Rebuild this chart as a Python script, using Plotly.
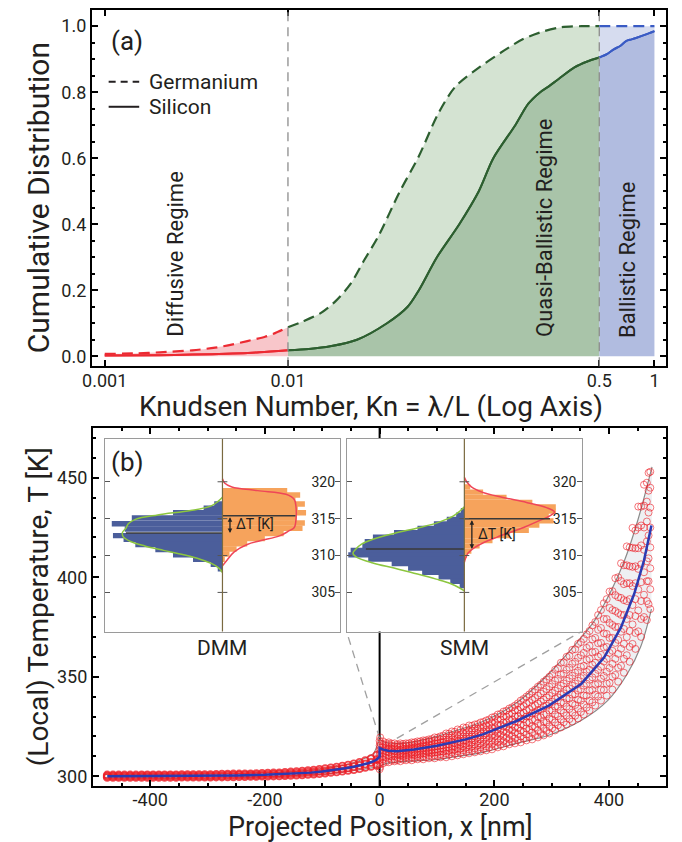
import math
import plotly.graph_objects as go

# ---------------- DATA: panel (a) cumulative distributions ----------------
GE_RED_KN = [0.001, 0.0015, 0.002, 0.003, 0.004, 0.005, 0.006, 0.0075, 0.0085, 0.01]
GE_RED_CD = [0.007, 0.009, 0.012, 0.018, 0.026, 0.036, 0.046, 0.059, 0.07, 0.088]
GE_GREEN_KN = [0.01, 0.012, 0.015, 0.0182, 0.022, 0.026, 0.0311, 0.0406, 0.0517, 0.0659,
               0.0817, 0.1125, 0.15, 0.192, 0.25, 0.311, 0.4, 0.5]
GE_GREEN_CD = [0.088, 0.105, 0.13, 0.167, 0.22, 0.29, 0.363, 0.497, 0.605, 0.734,
               0.816, 0.878, 0.925, 0.961, 0.985, 0.997, 1.0, 1.0]
GE_BLUE_KN = [0.5, 1.0]
GE_BLUE_CD = [1.0, 1.0]

SI_RED_KN = [0.001, 0.002, 0.003, 0.005, 0.007, 0.01]
SI_RED_CD = [0.002, 0.003, 0.005, 0.008, 0.012, 0.018]
SI_GREEN_KN = [0.01, 0.013, 0.017, 0.0238, 0.0347, 0.045, 0.0518, 0.065, 0.0861, 0.11,
               0.132, 0.174, 0.205, 0.238, 0.264, 0.3, 0.366, 0.43, 0.5]
SI_GREEN_CD = [0.018, 0.022, 0.03, 0.05, 0.1, 0.15, 0.2, 0.3, 0.4, 0.5,
               0.6, 0.7, 0.765, 0.8, 0.817, 0.84, 0.875, 0.893, 0.905]
SI_BLUE_KN = [0.5, 0.55, 0.6, 0.65, 0.7, 0.75, 0.8, 0.9, 1.0]
SI_BLUE_CD = [0.905, 0.915, 0.93, 0.94, 0.955, 0.96, 0.965, 0.975, 0.985]

KN_TICKS = [0.001, 0.01, 0.5, 1]
KN_TICK_TEXT = ["0.001", "0.01", "0.5", "1"]
REGIME_LINES = [0.01, 0.5]
REGIME_LABELS = ["Diffusive Regime", "Quasi-Ballistic Regime", "Ballistic Regime"]
REGIME_LABEL_KN = [0.00244, 0.251, 0.713]
REGIME_LABEL_CD = [0.31, 0.39, 0.29]

# ---------------- DATA: panel (b) temperature profile ----------------
BLUE_X = [-475, -400, -300, -250, -200, -150, -120, -100, -80, -60, -45, -30, -20, -10, -5, 0,
          0, 5, 15, 30, 60, 100, 150, 180, 237, 295, 352, 392, 421, 444, 461, 474]
BLUE_T = [300.0, 300.05, 300.2, 300.4, 300.7, 301.3, 301.8, 302.4, 303.1, 304.0, 304.8, 305.7,
          306.5, 307.6, 308.4, 309.8,
          314.2, 313.5, 312.8, 312.5, 313.4, 315.3, 318.5, 321.0, 327.5, 335.5, 346.5, 359.9,
          374.9, 391.7, 408.4, 426.0]

ENV_L_X = [-480, -300, -200, -150, -100, -70, -45, -25, -10, -2, 0]
ENV_L_UP = [300.9, 301.0, 301.6, 302.3, 303.6, 305.0, 306.8, 309.0, 311.5, 316.5, 318.5]
ENV_L_LO = [299.2, 299.4, 299.8, 300.3, 301.0, 301.8, 302.6, 303.6, 304.4, 304.7, 304.8]
ENV_R_UP_X = [0, 8, 30, 60, 100, 122, 180, 237, 295, 352, 375, 404, 427, 450, 475]
ENV_R_UP = [318.5, 317.2, 316.5, 317.3, 320.0, 322.0, 327.5, 336.5, 351.5, 369.9, 378.3,
            393.3, 408.4, 428.4, 455.5]
ENV_R_LO_X = [0, 10, 30, 60, 100, 122, 180, 237, 295, 352, 398, 432, 455, 474]
ENV_R_LO = [304.8, 306.3, 307.1, 307.7, 308.4, 309.3, 312.0, 316.4, 320.6, 328.1, 338.1,
            351.5, 364.9, 384.0]

# scattered local temperatures
LEFT_COL_X = [-475, -465, -455, -445, -435, -425, -415, -405, -395, -385, -375, -365, -355,
              -345, -335, -325, -315, -305, -295, -285, -275, -265, -255, -245, -235, -225,
              -215, -205, -195, -185, -175, -165, -155, -145, -135, -125, -115, -105, -95,
              -85, -75, -65, -55, -45, -35, -25, -15, -5]
LEFT_COL_T = [
    [299.4, 300.0, 300.6], [299.4, 300.0, 300.6], [299.4, 300.0, 300.6], [299.4, 300.0, 300.6],
    [299.4, 300.0, 300.6], [299.4, 300.0, 300.6], [299.4, 300.1, 300.7], [299.4, 300.1, 300.7],
    [299.4, 300.1, 300.7], [299.4, 300.1, 300.7], [299.4, 300.1, 300.7], [299.4, 300.1, 300.7],
    [299.4, 300.1, 300.7], [299.5, 300.2, 300.8], [299.5, 300.2, 300.8], [299.5, 300.2, 300.8],
    [299.5, 300.2, 300.8], [299.5, 300.2, 300.8], [299.5, 300.2, 300.8], [299.6, 300.3, 300.9],
    [299.6, 300.3, 301.0], [299.7, 300.4, 301.0], [299.7, 300.4, 301.1], [299.8, 300.5, 301.1],
    [299.8, 300.5, 301.2], [299.9, 300.6, 301.2], [299.9, 300.6, 301.3], [300.0, 300.7, 301.4],
    [300.0, 300.8, 301.5], [300.1, 300.9, 301.6], [300.2, 301.0, 301.7], [300.3, 301.1, 301.9],
    [300.4, 301.3, 302.1], [300.5, 301.4, 302.3], [300.7, 301.6, 302.5], [300.9, 301.9, 302.8],
    [301.1, 302.1, 303.1], [301.3, 302.4, 303.4], [301.6, 302.7, 303.8], [301.9, 303.0, 304.2],
    [302.2, 303.4, 304.6], [302.5, 303.8, 305.1], [302.9, 304.2, 305.6], [303.3, 304.8, 306.2],
    [303.8, 305.4, 306.9], [304.4, 306.1, 307.8], [304.9, 306.9, 308.8], [305.5, 308.3, 310.6]]
INTERFACE_X = [0, 1, 0, 1, 0, 1, 0, 1, 0, 1, 0, 1, 0, 1]
INTERFACE_T = [303.5, 304.6, 305.8, 307.0, 308.2, 309.4, 310.6, 311.8, 313.0, 314.2, 315.4,
               316.6, 317.8, 319.5]
RIGHT_COL_X = [6, 16, 26, 36, 46, 56, 66, 76, 86, 96, 106, 116, 126, 136, 146, 156, 166, 176,
               186, 196, 206, 216, 226, 236, 246, 256, 266, 276, 286, 296, 306, 316, 326, 336,
               346, 356, 366, 376, 386, 396, 406, 416, 426, 436, 446, 456, 466, 472]
RIGHT_COL_T = [
    [306.5, 308.5, 310.0, 311.5, 313.0, 314.5, 316.0, 317.5],
    [307.0, 309.0, 310.5, 312.0, 313.5, 314.5, 316.0, 317.0],
    [307.5, 308.5, 310.0, 311.5, 312.5, 314.0, 315.0, 316.5],
    [307.5, 309.0, 310.5, 311.5, 313.0, 314.5, 315.5, 316.5],
    [308.0, 309.5, 310.5, 312.0, 313.0, 314.0, 315.5, 316.5],
    [308.0, 309.5, 311.0, 312.0, 313.5, 314.5, 316.0, 317.0],
    [308.5, 310.0, 311.0, 312.5, 314.0, 315.0, 316.5, 317.5],
    [308.5, 310.0, 311.5, 313.0, 314.0, 315.5, 317.0, 318.0],
    [309.0, 310.5, 312.0, 313.0, 314.5, 316.0, 317.5, 318.5],
    [309.0, 310.5, 312.0, 313.5, 315.0, 316.5, 318.0, 319.5],
    [309.5, 311.0, 312.5, 314.0, 315.5, 317.0, 318.5, 320.0],
    [309.5, 311.5, 313.0, 314.5, 316.0, 317.5, 319.5, 321.5],
    [310.0, 312.0, 313.5, 315.0, 317.0, 318.5, 320.5, 322.5],
    [310.5, 312.5, 314.0, 316.0, 317.5, 319.0, 321.0, 323.5],
    [311.0, 313.0, 315.0, 316.5, 318.0, 320.0, 322.0, 324.5],
    [311.5, 313.5, 315.5, 317.0, 319.0, 321.0, 323.0, 325.5],
    [312.0, 314.0, 316.0, 318.0, 320.0, 322.0, 324.0, 326.0],
    [312.5, 314.5, 316.5, 318.5, 320.5, 322.5, 324.5, 327.0],
    [313.0, 315.0, 317.5, 319.5, 321.5, 323.5, 325.5, 328.0],
    [313.5, 316.0, 318.0, 320.5, 322.5, 324.5, 327.0, 329.5],
    [314.5, 317.0, 319.0, 321.5, 323.5, 326.0, 328.5, 331.0],
    [315.0, 317.5, 320.0, 322.5, 325.0, 327.0, 330.0, 332.5],
    [316.0, 318.5, 321.0, 323.5, 326.0, 328.5, 331.0, 334.0],
    [316.5, 319.0, 322.0, 324.5, 327.5, 330.0, 333.0, 335.5],
    [317.0, 320.0, 323.0, 326.0, 329.0, 331.5, 334.5, 338.0],
    [318.0, 321.0, 324.0, 327.0, 330.0, 333.0, 336.5, 340.0],
    [318.5, 322.0, 325.0, 328.5, 331.5, 335.0, 338.5, 342.5],
    [319.5, 323.0, 326.5, 330.0, 333.0, 336.5, 340.5, 345.0],
    [320.5, 324.0, 327.5, 331.0, 335.0, 338.5, 342.5, 347.5],
    [321.5, 325.0, 329.0, 333.0, 336.5, 340.5, 345.0, 350.0],
    [323.0, 327.0, 331.0, 335.0, 339.0, 343.0, 348.0, 353.5],
    [324.5, 328.5, 333.0, 337.0, 341.0, 345.5, 351.0, 357.0],
    [326.0, 330.5, 335.0, 339.0, 343.5, 348.0, 353.5, 360.0],
    [327.5, 332.0, 336.5, 341.0, 345.5, 350.5, 356.5, 363.5],
    [329.0, 334.0, 338.5, 343.0, 348.0, 353.0, 359.5, 366.5],
    [331.0, 336.0, 340.5, 345.5, 350.5, 355.5, 362.0, 369.0],
    [333.0, 338.0, 343.0, 348.5, 353.5, 359.0, 365.5, 373.0],
    [335.5, 341.0, 346.0, 351.5, 357.0, 362.5, 369.5, 377.5],
    [338.0, 343.5, 349.0, 355.0, 361.0, 367.0, 374.5, 383.5],
    [340.5, 346.5, 352.5, 359.0, 365.0, 371.5, 379.0, 389.0],
    [343.5, 350.0, 356.5, 363.0, 369.5, 376.0, 383.5, 393.0],
    [347.5, 354.5, 361.5, 368.5, 375.0, 382.0, 390.0, 400.0],
    [352.0, 359.0, 366.5, 374.0, 381.0, 388.5, 396.5, 406.0],
    [357.5, 365.0, 373.0, 381.0, 389.0, 397.0, 405.5, 415.0],
    [364.0, 372.0, 380.5, 389.0, 397.0, 405.5, 414.5, 423.5],
    [370.0, 379.0, 388.0, 397.5, 406.5, 416.0, 426.0, 435.5],
    [378.5, 388.0, 398.0, 408.0, 418.0, 428.0, 438.0, 447.5],
    [384.0, 394.0, 404.5, 415.0, 425.0, 435.0, 445.0, 453.0]]
RIGHT_COL2_X = [11, 21, 31, 41, 51, 61, 71, 81, 91, 101, 111, 121, 131, 141, 151, 161, 171,
                181, 191, 201, 211, 221, 231, 241, 251, 261, 271, 281, 291, 301, 311, 321, 331,
                341, 351, 361, 371, 381, 391, 401, 411, 421, 431, 441, 451, 461, 469]
RIGHT_COL2_T = [
    [307.2, 309.3, 311.0, 312.5, 313.8, 315.2, 316.6],
    [307.8, 309.8, 311.2, 312.7, 313.9, 315.3, 316.4],
    [308.0, 309.4, 311.0, 312.3, 313.4, 314.7, 315.9],
    [308.3, 309.9, 311.2, 312.6, 313.8, 315.0, 316.2],
    [308.6, 310.2, 311.6, 312.8, 314.0, 315.2, 316.5],
    [308.9, 310.5, 311.9, 313.2, 314.5, 315.8, 317.0],
    [309.2, 310.8, 312.2, 313.6, 314.9, 316.2, 317.5],
    [309.5, 311.2, 312.6, 314.0, 315.3, 316.7, 318.0],
    [309.8, 311.5, 312.9, 314.3, 315.8, 317.2, 318.7],
    [310.1, 311.9, 313.4, 314.9, 316.3, 317.8, 319.4],
    [310.4, 312.3, 313.9, 315.4, 316.9, 318.5, 320.4],
    [310.8, 312.8, 314.4, 316.0, 317.6, 319.4, 321.4],
    [311.3, 313.3, 315.0, 316.6, 318.3, 320.1, 322.3],
    [311.8, 313.9, 315.7, 317.3, 319.1, 321.0, 323.2],
    [312.3, 314.5, 316.3, 318.1, 320.0, 322.0, 324.3],
    [312.8, 315.0, 317.0, 318.9, 320.9, 323.0, 325.3],
    [313.3, 315.6, 317.6, 319.6, 321.7, 323.8, 326.2],
    [313.8, 316.1, 318.3, 320.5, 322.6, 324.8, 327.3],
    [314.4, 316.8, 319.0, 321.4, 323.6, 325.9, 328.5],
    [315.1, 317.6, 320.0, 322.4, 324.7, 327.2, 329.9],
    [315.8, 318.4, 320.9, 323.4, 325.9, 328.5, 331.3],
    [316.6, 319.3, 321.9, 324.6, 327.2, 330.0, 332.9],
    [317.3, 320.2, 323.0, 325.8, 328.6, 331.6, 334.6],
    [318.1, 321.2, 324.2, 327.2, 330.2, 333.3, 336.6],
    [318.9, 322.2, 325.5, 328.7, 331.9, 335.2, 338.8],
    [319.8, 323.3, 326.8, 330.3, 333.7, 337.2, 341.1],
    [320.7, 324.5, 328.2, 331.9, 335.6, 339.3, 343.5],
    [321.7, 325.7, 329.6, 333.6, 337.5, 341.5, 346.0],
    [322.8, 327.0, 331.2, 335.4, 339.6, 343.8, 348.6],
    [324.1, 328.5, 333.0, 337.4, 341.8, 346.3, 351.4],
    [325.6, 330.2, 334.9, 339.6, 344.2, 348.9, 354.3],
    [327.1, 331.9, 336.8, 341.7, 346.6, 351.6, 357.3],
    [328.7, 333.8, 339.0, 344.1, 349.2, 354.5, 360.5],
    [330.4, 335.8, 341.2, 346.6, 352.0, 357.5, 363.8],
    [332.3, 338.0, 343.7, 349.3, 355.0, 360.8, 367.4],
    [334.5, 340.5, 346.5, 352.4, 358.4, 364.5, 371.3],
    [337.1, 343.4, 349.7, 356.0, 362.3, 368.8, 375.8],
    [340.0, 346.7, 353.4, 360.1, 366.8, 373.6, 381.0],
    [343.3, 350.4, 357.6, 364.7, 371.8, 379.0, 386.9],
    [346.9, 354.4, 362.0, 369.5, 377.0, 384.6, 392.8],
    [350.9, 359.0, 367.0, 375.0, 383.0, 391.0, 399.5],
    [355.5, 364.1, 372.6, 381.1, 389.6, 398.1, 407.0],
    [360.8, 369.9, 379.0, 388.0, 397.0, 406.0, 415.5],
    [366.5, 376.3, 386.0, 395.6, 405.2, 414.8, 424.8],
    [372.8, 383.3, 393.8, 404.2, 414.6, 425.0, 435.5],
    [380.0, 391.2, 402.5, 413.8, 425.0, 436.0, 446.5],
    [386.5, 398.0, 409.5, 421.0, 432.5, 443.5, 452.5]]

# connectors from the zoomed interface region to the inset corners
ZOOM_LINE_X = [[0, -57.7], [30, 352]]
ZOOM_LINE_T = [[319.0, 372.8], [319.0, 372.8]]

X_TICKS_B = [-400, -200, 0, 200, 400]
X_TICK_TEXT_B = ["-400", "-200", "0", "200", "400"]

# ---------------- DATA: insets (DMM, SMM) ----------------
INSET_T_TICKS = [305, 310, 315, 320]

DMM_BLUE_T = [317.0, 316.4, 315.8, 315.1, 314.3, 313.6, 312.7, 312.2, 311.5, 310.8, 310.1,
              309.5, 308.8, 308.2]
DMM_BLUE_W = [0.07, 0.16, 0.42, 0.77, 0.94, 0.83, 0.93, 0.84, 0.74, 0.57, 0.42, 0.25, 0.10, 0.04]
DMM_GREEN_T = [317.9, 317.3, 316.7, 316.1, 315.5, 314.9, 314.3, 313.7, 313.1, 312.5, 311.9,
               311.3, 310.7, 310.1, 309.5, 308.9, 308.3, 307.7]
DMM_GREEN_W = [0.0, 0.04, 0.1, 0.27, 0.55, 0.74, 0.8, 0.82, 0.85, 0.84, 0.78, 0.66, 0.5, 0.33,
               0.19, 0.09, 0.03, 0.0]
DMM_ORANGE_T = [318.8, 318.2, 317.6, 317.0, 316.4, 315.8, 315.1, 314.4, 313.7, 313.0, 312.3,
                311.6, 310.9, 310.2, 309.5]
DMM_ORANGE_W = [0.55, 0.66, 0.62, 0.70, 0.64, 0.71, 0.63, 0.70, 0.68, 0.52, 0.36, 0.21, 0.12,
                0.06, 0.02]
DMM_RED_T = [320.4, 319.8, 319.3, 318.8, 318.3, 317.6, 316.5, 315.0, 313.8, 313.3, 312.7, 312.0,
             311.5, 310.5, 309.4, 308.6]
DMM_RED_W = [0.0, 0.02, 0.08, 0.3, 0.54, 0.61, 0.625, 0.625, 0.61, 0.56, 0.49, 0.32, 0.21, 0.1,
             0.04, 0.0]
DMM_MEAN_LEFT, DMM_MEAN_RIGHT = 313.05, 315.4
DMM_MEAN_REACH = [0.82, 0.62]

SMM_BLUE_T = [316.1, 315.5, 314.9, 314.3, 313.7, 313.1, 312.5, 311.9, 311.3, 310.7, 310.1,
              309.5, 308.9, 308.3, 307.7, 307.1, 306.5, 305.9]
SMM_BLUE_W = [0.03, 0.07, 0.15, 0.26, 0.4, 0.6, 0.78, 0.85, 0.87, 0.97, 0.99, 0.82, 0.62, 0.48,
              0.36, 0.22, 0.12, 0.04]
SMM_GREEN_T = [316.6, 316.0, 315.3, 314.5, 313.8, 313.0, 312.2, 311.5, 310.8, 310.3, 309.8,
               309.0, 308.3, 307.5, 306.8, 306.2, 305.6, 305.2]
SMM_GREEN_W = [0.0, 0.04, 0.1, 0.22, 0.38, 0.6, 0.78, 0.88, 0.93, 0.95, 0.92, 0.78, 0.6, 0.4,
               0.24, 0.12, 0.04, 0.0]
SMM_ORANGE_T = [319.3, 318.6, 317.9, 317.2, 316.6, 316.0, 315.4, 314.7, 314.1, 313.4, 312.7,
                312.0, 311.3, 310.6, 310.0]
SMM_ORANGE_W = [0.05, 0.16, 0.36, 0.58, 0.78, 0.78, 0.72, 0.76, 0.64, 0.55, 0.39, 0.24, 0.13,
                0.06, 0.02]
SMM_RED_T = [320.6, 320.0, 319.3, 318.6, 317.9, 317.2, 316.5, 315.9, 315.3, 314.6, 313.9, 313.2,
             312.5, 311.8, 311.0, 310.3, 309.6, 309.1]
SMM_RED_W = [0.0, 0.02, 0.06, 0.15, 0.32, 0.53, 0.7, 0.77, 0.72, 0.62, 0.52, 0.4, 0.28, 0.17,
             0.08, 0.03, 0.01, 0.0]
SMM_MEAN_LEFT, SMM_MEAN_RIGHT = 310.9, 315.0
SMM_MEAN_REACH = [0.84, 0.73]

# ---------------- styling ----------------
W, H = 682, 842
OFF = 8  # page body margin of the browser
FONT = "Roboto, 'Liberation Sans', sans-serif"
INK = "#231f20"
RED, DGREEN, BLUE = "#ec2a32", "#2d5f30", "#3a5bc4"
PINK_FILL = "#f8c6ca"
GREEN_LIGHT, GREEN_DARK = "#d4e3d2", "#a9c4a9"
BLUE_LIGHT, BLUE_DARK = "#d6dcef", "#b1bce0"
DASH = "11px,6px"


def px(x):
    return (x - OFF) / W


def py(y):
    return min(1.0, 1 - (y - OFF) / H)


fig = go.Figure()

# ---- panel (a)
segments = [
    (SI_RED_KN, SI_RED_CD, GE_RED_KN, GE_RED_CD, RED, PINK_FILL, PINK_FILL),
    (SI_GREEN_KN, SI_GREEN_CD, GE_GREEN_KN, GE_GREEN_CD, DGREEN, GREEN_DARK, GREEN_LIGHT),
    (SI_BLUE_KN, SI_BLUE_CD, GE_BLUE_KN, GE_BLUE_CD, BLUE, BLUE_DARK, BLUE_LIGHT),
]
for si_x, si_y, ge_x, ge_y, col, dark, light in segments:
    fig.add_trace(go.Scatter(x=si_x, y=si_y, mode="lines",
                             line=dict(color=col, width=2, shape="spline", smoothing=0.8),
                             fill="tozeroy", fillcolor=dark, showlegend=False,
                             xaxis="x", yaxis="y", hoverinfo="skip"))
    fig.add_trace(go.Scatter(x=ge_x, y=ge_y, mode="lines",
                             line=dict(color=col, width=2.2, dash=DASH, shape="spline",
                                       smoothing=0.8),
                             fill="tonexty", fillcolor=light, showlegend=False,
                             xaxis="x", yaxis="y", hoverinfo="skip"))
for si_x, si_y, ge_x, ge_y, col, dark, light in segments:
    fig.add_trace(go.Scatter(x=si_x, y=si_y, mode="lines",
                             line=dict(color=col, width=2, shape="spline", smoothing=0.8),
                             showlegend=False, xaxis="x", yaxis="y", hoverinfo="skip"))

# ---- panel (b)
ENV_GREY = "#8a8a8a"
ENV_FILL = "#eef0f3"
fig.add_trace(go.Scatter(x=ENV_L_X, y=ENV_L_LO, mode="lines", line=dict(color=ENV_GREY, width=1),
                         showlegend=False, xaxis="x2", yaxis="y2", hoverinfo="skip"))
fig.add_trace(go.Scatter(x=ENV_L_X, y=ENV_L_UP, mode="lines", line=dict(color=ENV_GREY, width=1),
                         fill="tonexty", fillcolor=ENV_FILL,
                         showlegend=False, xaxis="x2", yaxis="y2", hoverinfo="skip"))
fig.add_trace(go.Scatter(x=ENV_R_LO_X, y=ENV_R_LO, mode="lines",
                         line=dict(color=ENV_GREY, width=1.2, shape="spline"),
                         showlegend=False, xaxis="x2", yaxis="y2", hoverinfo="skip"))
fig.add_trace(go.Scatter(x=ENV_R_UP_X, y=ENV_R_UP, mode="lines",
                         line=dict(color=ENV_GREY, width=1.2, shape="spline"),
                         fill="tonexty", fillcolor=ENV_FILL,
                         showlegend=False, xaxis="x2", yaxis="y2", hoverinfo="skip"))

lx, ly = [], []
for xc, ts in zip(LEFT_COL_X, LEFT_COL_T):
    for t in ts:
        lx.append(xc)
        ly.append(t)
fig.add_trace(go.Scatter(x=lx, y=ly, mode="markers",
                         marker=dict(symbol="circle-open", size=7,
                                     color="rgba(236,28,36,0.8)", line=dict(width=1.8)),
                         showlegend=False, xaxis="x2", yaxis="y2", hoverinfo="skip"))
sx, sy = list(INTERFACE_X), list(INTERFACE_T)
for cols_x, cols_t in ((RIGHT_COL_X, RIGHT_COL_T), (RIGHT_COL2_X, RIGHT_COL2_T)):
    for xc, ts in zip(cols_x, cols_t):
        for t in ts:
            sx.append(xc)
            sy.append(t)
fig.add_trace(go.Scatter(x=sx, y=sy, mode="markers",
                         marker=dict(symbol="circle-open", size=7,
                                     color="rgba(236,28,36,0.6)", line=dict(width=1)),
                         showlegend=False, xaxis="x2", yaxis="y2", hoverinfo="skip"))
fig.add_trace(go.Scatter(x=BLUE_X, y=BLUE_T, mode="lines", line=dict(color="#2b3bb3", width=2.5),
                         showlegend=False, xaxis="x2", yaxis="y2", hoverinfo="skip"))


# ---- insets
def add_inset(xa, ya, bt, bw, gt, gw, ot, ow, rt, rw, m_left, m_right, reach, bar_w):
    neg_bw = [-w for w in bw]
    neg_gw = [-w for w in gw]
    fig.add_trace(go.Bar(x=neg_bw, y=bt, orientation="h", width=bar_w, base=0,
                         marker=dict(color="#4b5e9b", line=dict(width=0)),
                         showlegend=False, xaxis=xa, yaxis=ya, hoverinfo="skip"))
    fig.add_trace(go.Bar(x=ow, y=ot, orientation="h", width=bar_w, base=0,
                         marker=dict(color="#f6a35c", line=dict(width=0)),
                         showlegend=False, xaxis=xa, yaxis=ya, hoverinfo="skip"))
    fig.add_trace(go.Scatter(x=neg_gw, y=gt, mode="lines",
                             line=dict(color="#8cc63f", width=1.5, shape="spline"),
                             showlegend=False, xaxis=xa, yaxis=ya, hoverinfo="skip"))
    fig.add_trace(go.Scatter(x=rw, y=rt, mode="lines",
                             line=dict(color="#ef4658", width=1.5, shape="spline"),
                             showlegend=False, xaxis=xa, yaxis=ya, hoverinfo="skip"))
    fig.add_trace(go.Scatter(x=[-reach[0], 0], y=[m_left, m_left], mode="lines",
                             line=dict(color="#3a3a3a", width=1.5),
                             showlegend=False, xaxis=xa, yaxis=ya, hoverinfo="skip"))
    fig.add_trace(go.Scatter(x=[0, reach[1]], y=[m_right, m_right], mode="lines",
                             line=dict(color="#3a3a3a", width=1.5),
                             showlegend=False, xaxis=xa, yaxis=ya, hoverinfo="skip"))
    fig.add_trace(go.Scatter(x=[0] * len(INSET_T_TICKS), y=INSET_T_TICKS, mode="markers",
                             marker=dict(symbol="line-ew", size=7,
                                         line=dict(color="#555", width=1)),
                             showlegend=False, xaxis=xa, yaxis=ya, hoverinfo="skip"))


add_inset("x3", "y3", DMM_BLUE_T, DMM_BLUE_W, DMM_GREEN_T, DMM_GREEN_W, DMM_ORANGE_T,
          DMM_ORANGE_W, DMM_RED_T, DMM_RED_W, DMM_MEAN_LEFT, DMM_MEAN_RIGHT, DMM_MEAN_REACH,
          0.74)
add_inset("x4", "y4", SMM_BLUE_T, SMM_BLUE_W, SMM_GREEN_T, SMM_GREEN_W, SMM_ORANGE_T,
          SMM_ORANGE_W, SMM_RED_T, SMM_RED_W, SMM_MEAN_LEFT, SMM_MEAN_RIGHT, SMM_MEAN_REACH,
          0.7)

# ---------------- layout ----------------
tickfont = dict(family=FONT, size=18, color=INK)
frame = dict(showline=True, linecolor="black", linewidth=2, mirror="allticks",
             ticks="inside", ticklen=6, tickcolor="black", tickwidth=1.5,
             showgrid=False, zeroline=False, tickfont=tickfont)
inset_x = dict(range=[-1, 1], showticklabels=False, ticks="", showline=True,
               linecolor="#9a9a9a", linewidth=1, mirror=True, showgrid=False,
               zeroline=False, fixedrange=True)
inset_y = dict(range=[299.7, 325.8], side="right", tickvals=INSET_T_TICKS,
               ticks="inside", ticklen=5, tickcolor="#555", ticklabelposition="inside",
               showline=True, linecolor="#9a9a9a", linewidth=1, mirror="ticks",
               showgrid=False, zeroline=False,
               tickfont=dict(family=FONT, size=14, color=INK))

shapes = []
for kn in REGIME_LINES:
    shapes.append(dict(type="line", xref="x", yref="y domain", x0=kn, x1=kn, y0=0, y1=1,
                       line=dict(color="#8c8c8c", width=1.3, dash="9px,6px"), layer="above"))
shapes.append(dict(type="line", xref="x2", yref="y2 domain", x0=0, x1=0, y0=0, y1=1,
                   line=dict(color="black", width=2), layer="below"))
for zx, zt in zip(ZOOM_LINE_X, ZOOM_LINE_T):
    shapes.append(dict(type="line", xref="x2", yref="y2", x0=zx[0], x1=zx[1], y0=zt[0], y1=zt[1],
                       line=dict(color="#a0a0a0", width=1.3, dash="8px,6px"), layer="below"))
for xa in ("x3", "x4"):
    shapes.append(dict(type="line", xref=xa, yref=xa.replace("x", "y") + " domain",
                       x0=0, x1=0, y0=0, y1=1, line=dict(color="#7a6a40", width=1.2),
                       layer="above"))
# legend samples (panel a)
shapes.append(dict(type="line", xref="paper", yref="paper", x0=px(100), x1=px(131),
                   y0=py(80), y1=py(80), line=dict(color=INK, width=2, dash="7px,5px")))
shapes.append(dict(type="line", xref="paper", yref="paper", x0=px(100), x1=px(131),
                   y0=py(105), y1=py(105), line=dict(color=INK, width=2)))

ann = []


def text(x, y, s, size, xref="paper", yref="paper", angle=0, xanchor="center", yanchor="middle"):
    ann.append(dict(x=x, y=y, xref=xref, yref=yref, text=s, showarrow=False, textangle=angle,
                    xanchor=xanchor, yanchor=yanchor,
                    font=dict(family=FONT, size=size, color=INK)))


text(px(366), py(405), "Knudsen Number, Kn = λ/L (Log Axis)", 28)
text(px(29), py(196), "Cumulative Distribution", 30, angle=-90)
text(px(376), py(827), "Projected Position, x [nm]", 27)
text(px(29), py(606), "(Local) Temperature, T [K]", 28, angle=-90)
text(px(100), py(39), "(a)", 26, xanchor="left")
text(px(100), py(461), "(b)", 26, xanchor="left")
text(px(139), py(80), "Germanium", 21, xanchor="left")
text(px(139), py(105), "Silicon", 21, xanchor="left")
for lab, kn, cd in zip(REGIME_LABELS, REGIME_LABEL_KN, REGIME_LABEL_CD):
    text(math.log10(kn), cd, lab, 22, xref="x", yref="y", angle=-90)
text(0, -0.088, "DMM", 21, xref="x3", yref="y3 domain")
text(0, -0.088, "SMM", 21, xref="x4", yref="y4 domain")
text(0.1, (DMM_MEAN_LEFT + DMM_MEAN_RIGHT) / 2, "ΔT [K]", 14, xref="x3", yref="y3",
     xanchor="left")
text(0.1, (SMM_MEAN_LEFT + SMM_MEAN_RIGHT) / 2, "ΔT [K]", 14, xref="x4", yref="y4",
     xanchor="left")
for xa, lo, hi in (("x3", DMM_MEAN_LEFT, DMM_MEAN_RIGHT), ("x4", SMM_MEAN_LEFT, SMM_MEAN_RIGHT)):
    ya = xa.replace("x", "y")
    ann.append(dict(x=0.064, y=lo, ax=0.064, ay=hi, xref=xa, yref=ya, axref=xa, ayref=ya,
                    text="", showarrow=True, arrowhead=2, startarrowhead=2,
                    arrowside="end+start", arrowsize=0.7, arrowwidth=1.3,
                    arrowcolor="#222", standoff=0, startstandoff=0))

fig.update_layout(
    width=W, height=H, margin=dict(l=0, r=0, t=0, b=0),
    paper_bgcolor="white", plot_bgcolor="white",
    showlegend=False, barmode="overlay",
    font=dict(family=FONT, color=INK),
    xaxis=dict(frame, type="log", range=[-3.07, 0.065], domain=[px(83), px(666)], anchor="y",
               tickvals=KN_TICKS, ticktext=KN_TICK_TEXT, ticklabelstandoff=-3),
    yaxis=dict(frame, range=[-0.03, 1.049], domain=[py(365), py(8)], anchor="x",
               tickvals=[0, 0.2, 0.4, 0.6, 0.8, 1.0], tickformat=".1f",
               minor=dict(dtick=0.05, tick0=0, ticks="inside", ticklen=3, tickcolor="black")),
    xaxis2=dict(frame, range=[-500, 500], domain=[px(84), px(666)], anchor="y2",
                tickvals=X_TICKS_B, ticktext=X_TICK_TEXT_B, ticklabelstandoff=-4,
                minor=dict(dtick=50, tick0=0, ticks="inside", ticklen=3, tickcolor="black")),
    yaxis2=dict(frame, range=[295, 475], domain=[py(786), py(427)], anchor="x2",
                tickvals=[300, 350, 400, 450],
                minor=dict(dtick=10, tick0=300, ticks="inside", ticklen=3, tickcolor="black")),
    xaxis3=dict(inset_x, domain=[px(96), px(335)], anchor="y3"),
    yaxis3=dict(inset_y, domain=[py(631), py(438)], anchor="x3"),
    xaxis4=dict(inset_x, domain=[px(342), px(580)], anchor="y4"),
    yaxis4=dict(inset_y, domain=[py(631), py(438)], anchor="x4"),
    shapes=shapes, annotations=ann,
)

fig.write_html("out.html")
